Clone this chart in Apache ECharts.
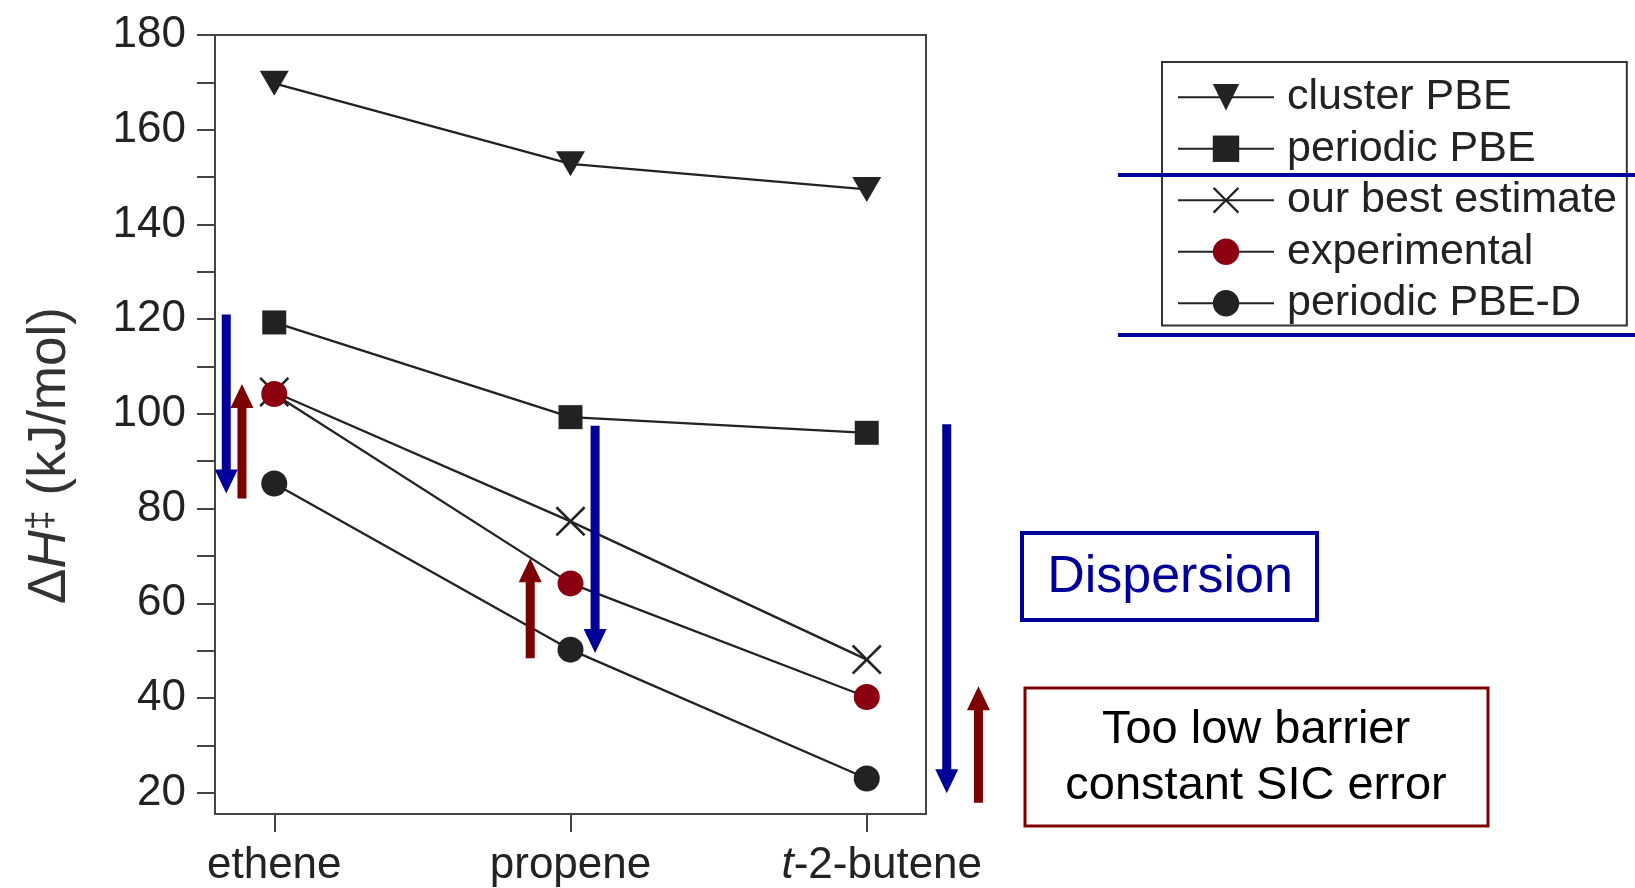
<!DOCTYPE html>
<html lang="en">
<head>
    <meta charset="UTF-8">
    <title>Activation enthalpy</title>
    <script src="https://cdn.jsdelivr.net/npm/echarts@6/dist/echarts.min.js"></script>
</head>
<style>
    html, body { margin: 0; padding: 0; background-color: #FFFFFF; }
</style>
<body>
<div id="main" style="width: 1635px;height: 888px;"></div>
<script>
    // categories and their positions on the value x axis
    var categories = ['ethene', 'propene', 't-2-butene'];
    var catPos = [0, 1, 2];

    // series values (kJ/mol)
    var clusterPBE = [169.8, 152.8, 147.4];
    var periodicPBE = [119.3, 99.3, 96.0];
    var bestEstimate = [104.6, 77.3, 48.1];
    var experimental = [104.2, 64.2, 40.2];
    var periodicPBED = [85.3, 50.2, 23.0];

    // tick labels
    var yLabels = [20, 40, 60, 80, 100, 120, 140, 160, 180];
    var yTicks = [20, 30, 40, 50, 60, 70, 80, 90, 100, 110, 120, 130, 140, 150, 160, 170, 180];

    // annotation arrows, in axis units
    var arrows = [
        {x: -0.162, from: 121.0, to: 83.2, color: '#000099'},
        {x: -0.109, from: 82.1, to: 106.3, color: '#7d0000'},
        {x: 0.864, from: 48.4, to: 69.5, color: '#7d0000'},
        {x: 1.083, from: 97.5, to: 49.5, color: '#000099'},
        {x: 2.270, from: 97.8, to: 19.9, color: '#000099'},
        {x: 2.377, from: 17.9, to: 42.5, color: '#7d0000'}
    ];

    var FONT = 'Liberation Sans, Arial, sans-serif';
    var INK = '#222';
    var RED = '#8a0010';
    var CROSS = 'path://M0,1.2L1.2,0L10,8.8L18.8,0L20,1.2L11.2,10L20,18.8L18.8,20L10,11.2L1.2,20L0,18.8L8.8,10Z';

    function pts(vals) {
        return catPos.map(function (x, i) { return [x, vals[i]]; });
    }

    function lineSeries(name, vals, symbol, size, color, rotate) {
        return {
            name: name,
            type: 'line',
            data: pts(vals),
            symbol: symbol,
            symbolSize: size,
            symbolRotate: rotate || 0,
            showSymbol: true,
            lineStyle: {color: INK, width: 2.3},
            itemStyle: {color: color},
            emphasis: {disabled: true},
            animation: false
        };
    }

    var myChart = echarts.init(document.getElementById('main'));

    var option = {
        backgroundColor: '#FFFFFF',
        textStyle: {fontFamily: FONT},
        grid: {
            left: 215, right: 709, top: 35, bottom: 72,
            show: true, borderColor: '#444', borderWidth: 2
        },
        legend: {
            orient: 'vertical',
            left: 1162, top: 62,
            width: 466,
            padding: [13, 10, 0, 15],
            borderColor: '#333', borderWidth: 2,
            itemWidth: 96, itemHeight: 33, itemGap: 7,
            textStyle: {fontSize: 43, lineHeight: 44.5, color: INK, fontFamily: FONT, padding: [0, 0, 0, 8]},
            data: ['cluster PBE', 'periodic PBE', 'our best estimate', 'experimental', 'periodic PBE-D']
        },
        xAxis: {
            type: 'value',
            min: -0.2, max: 2.2,
            splitLine: {show: false},
            axisLine: {show: false, onZero: false},
            axisTick: {show: true, customValues: catPos, length: 18, inside: false, lineStyle: {color: '#444', width: 2}},
            axisLabel: {
                customValues: catPos,
                margin: 30,
                fontSize: 44,
                color: INK,
                formatter: function (v) {
                    var s = categories[Math.round(v)];
                    if (s.indexOf('t-') === 0) return '{i|t}' + s.slice(1);
                    return s;
                },
                rich: {i: {fontStyle: 'italic', fontSize: 44, color: INK, fontFamily: FONT, padding: [0, 0, 0, 30]}}
            }
        },
        yAxis: {
            type: 'value',
            min: 15.5, max: 180,
            splitLine: {show: false},
            axisLine: {show: false, onZero: false},
            axisTick: {show: true, customValues: yTicks, length: 18, inside: false, lineStyle: {color: '#444', width: 2}},
            axisLabel: {customValues: yLabels, margin: 29, fontSize: 44, color: INK},
            name: '\u0394{i|H}{s|\u2021} (kJ/mol)',
            nameLocation: 'middle',
            nameGap: 138,
            nameTextStyle: {
                fontSize: 53, color: '#333', fontFamily: FONT,
                padding: [0, 62, 0, 0],
                rich: {
                    i: {fontStyle: 'italic', fontSize: 53, color: '#333', fontFamily: FONT},
                    s: {fontSize: 36, color: '#333', verticalAlign: 'top', fontFamily: FONT}
                }
            }
        },
        series: [
            lineSeries('cluster PBE', clusterPBE, 'triangle', [29, 25], INK, 180),
            lineSeries('periodic PBE', periodicPBE, 'rect', 24, INK),
            lineSeries('our best estimate', bestEstimate, CROSS, 30, INK),
            lineSeries('experimental', experimental, 'circle', 26, RED),
            lineSeries('periodic PBE-D', periodicPBED, 'circle', 26, INK)
        ]
    };

    myChart.setOption(option);

    // annotations: arrows placed through the axes, boxes and rules in page pixels
    var graphics = [];
    arrows.forEach(function (a) {
        var p0 = myChart.convertToPixel({gridIndex: 0}, [a.x, a.from]);
        var p1 = myChart.convertToPixel({gridIndex: 0}, [a.x, a.to]);
        var x = p0[0], dir = p1[1] > p0[1] ? 1 : -1;
        var hy = p1[1] - dir * 24;
        graphics.push({
            type: 'polygon', z: 100,
            shape: {points: [[x - 4.5, p0[1]], [x + 4.5, p0[1]], [x + 4.5, hy], [x + 11.5, hy],
                [x, p1[1]], [x - 11.5, hy], [x - 4.5, hy]]},
            style: {fill: a.color}
        });
    });

    graphics.push(
        {type: 'line', z: 100, shape: {x1: 1118, y1: 175, x2: 1635, y2: 175}, style: {stroke: '#000099', lineWidth: 4}},
        {type: 'line', z: 100, shape: {x1: 1118, y1: 335, x2: 1635, y2: 335}, style: {stroke: '#000099', lineWidth: 4}},
        {type: 'rect', z: 100, shape: {x: 1022, y: 533, width: 295, height: 87}, style: {fill: '#fff', stroke: '#000099', lineWidth: 4}},
        {type: 'text', z: 101, x: 1170, y: 578, style: {text: 'Dispersion', font: '52px ' + FONT, fill: '#000099', align: 'center', verticalAlign: 'middle'}},
        {type: 'rect', z: 100, shape: {x: 1025, y: 688, width: 463, height: 138}, style: {fill: '#fff', stroke: '#7d0000', lineWidth: 3}},
        {type: 'text', z: 101, x: 1256, y: 730, style: {text: 'Too low barrier', font: '47px ' + FONT, fill: '#000', align: 'center', verticalAlign: 'middle'}},
        {type: 'text', z: 101, x: 1256, y: 786, style: {text: 'constant SIC error', font: '47px ' + FONT, fill: '#000', align: 'center', verticalAlign: 'middle'}}
    );

    myChart.setOption({graphic: graphics});
</script>
</body>
</html>
